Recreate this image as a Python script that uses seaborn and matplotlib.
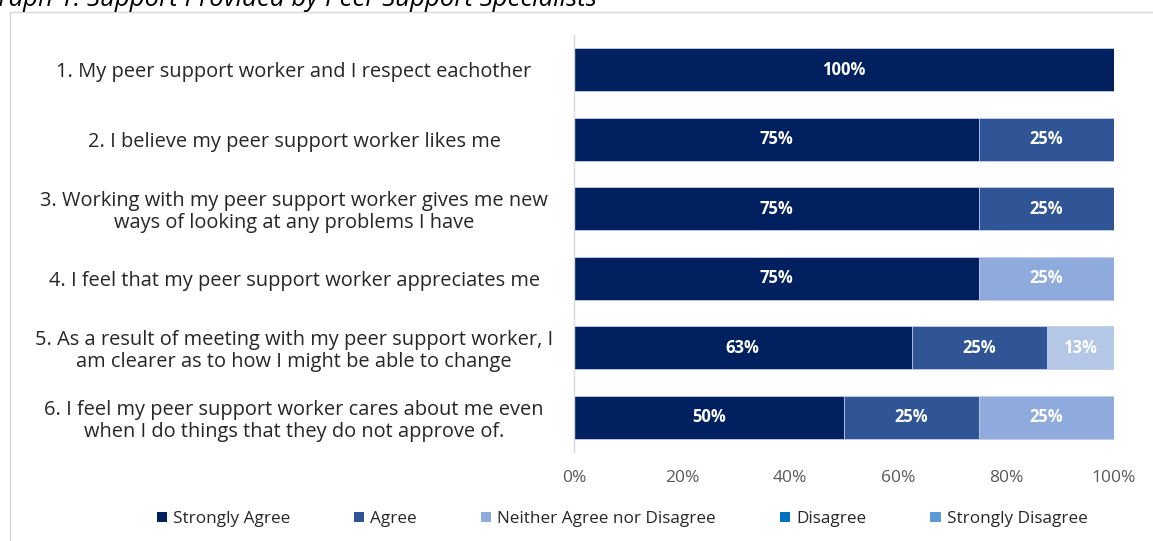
import numpy as np
import pandas as pd
import seaborn as sns
import matplotlib
matplotlib.use("Agg")
import matplotlib.pyplot as plt
from matplotlib.patches import Patch, Rectangle

# Survey statements (row order top to bottom)
statements = [
    "1. My peer support worker and I respect eachother",
    "2. I believe my peer support worker likes me",
    "3. Working with my peer support worker gives me new\nways of looking at any problems I have",
    "4. I feel that my peer support worker appreciates me",
    "5. As a result of meeting with my peer support worker, I\nam clearer as to how I might be able to change",
    "6. I feel my peer support worker cares about me even\nwhen I do things that they do not approve of.",
]

# Share of responses per category (%)
strongly_agree = [100, 75, 75, 75, 62.5, 50]
agree = [0, 25, 25, 0, 25, 25]
neither = [0, 0, 0, 25, 12.5, 25]
disagree = [0, 0, 0, 0, 0, 0]
strongly_disagree = [0, 0, 0, 0, 0, 0]

categories = ["Strongly Agree", "Agree", "Neither Agree nor Disagree",
              "Disagree", "Strongly Disagree"]
colors = ["#002060", "#2F5597", "#8FAADC", "#0070C0", "#5B9BD5"]
x_ticks = [0, 20, 40, 60, 80, 100]

sns.set_theme(style="white")
plt.rcParams["font.family"] = ["Open Sans", "DejaVu Sans"]

series = [strongly_agree, agree, neither, disagree, strongly_disagree]
df = pd.DataFrame({c: v for c, v in zip(categories, series)})
df["statement"] = statements
cum = df[categories].cumsum(axis=1)

fig = plt.figure(figsize=(11.53, 5.41), dpi=100)
ax = fig.add_axes([574 / 1153, 1 - 452 / 541, 540 / 1153, 417 / 541])

# Stacked bars: draw cumulative totals from the last category backwards
bar_width = 0.62
containers = {}
for cat, col in reversed(list(zip(categories, colors))):
    sns.barplot(x=cum[cat], y=df["statement"], orient="h", color=col,
                width=bar_width, ax=ax, edgecolor="#c9d3ea", linewidth=0.6,
                saturation=1)
    containers[cat] = ax.containers[-1]

# The partial "neither" response on statement 5 is shown in a lighter shade
containers["Neither Agree nor Disagree"][4].set_facecolor("#B4C7E7")

# Segment value labels
for i in range(len(statements)):
    start = 0
    for cat in categories:
        v = df.loc[i, cat]
        if v > 0:
            ax.text(start + v / 2, i, f"{int(np.floor(v + 0.5))}%",
                    ha="center", va="center", color="white",
                    fontsize=12, fontweight="bold")
        start += v

ax.set_xlim(0, 100)
ax.set_ylim(len(statements) - 0.5, -0.5)
ax.set_xticks(x_ticks)
ax.set_xticklabels([f"{t}%" for t in x_ticks], color="#595959", fontsize=12.5)
ax.tick_params(axis="x", length=0, pad=13)
ax.tick_params(axis="y", length=0, pad=18, labelsize=14.4, labelcolor="#262626")
for lbl in ax.get_yticklabels():
    lbl.set_horizontalalignment("center")
    lbl.set_multialignment("center")
    lbl.set_linespacing(1.12)
ax.set_xlabel("")
ax.set_ylabel("")
for side in ["top", "right", "bottom"]:
    ax.spines[side].set_visible(False)
ax.spines["left"].set_color("#d9d9d9")
ax.spines["left"].set_linewidth(1)

# Shift centred tick labels so their right edge lands next to the axis
fig.canvas.draw()
renderer = fig.canvas.get_renderer()
max_w = max(l.get_window_extent(renderer).width for l in ax.get_yticklabels())
ax.tick_params(axis="y", pad=15 + max_w / 2 * 72 / 100)
for lbl in ax.get_yticklabels():
    lbl.set_horizontalalignment("center")

handles = [Patch(facecolor=c, edgecolor="none") for c in colors]
fig.legend(handles, categories, loc="center", ncol=5,
           bbox_to_anchor=(622 / 1153, 1 - 519 / 541), frameon=False,
           fontsize=12.3, handlelength=0.6, handleheight=0.6,
           handletextpad=0.35, columnspacing=3.75, labelcolor="#262626")

# Chart frame and caption
fig.patches.append(Rectangle((10 / 1153, -0.1), 1.2, 1.1 - 12 / 541,
                             transform=fig.transFigure, fill=False,
                             edgecolor="#d9d9d9", linewidth=1))
fig.text(-19 / 1153, 1 - 6 / 541,
         "Graph 1: Support Provided by Peer Support Specialists",
         fontsize=18.5, fontstyle="italic", color="black",
         ha="left", va="baseline")

fig.savefig("out.png", dpi=100, facecolor="white")
